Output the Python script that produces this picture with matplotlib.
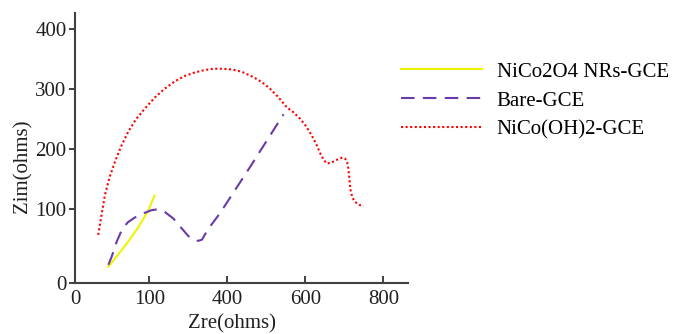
import matplotlib
matplotlib.use("Agg")
import matplotlib.pyplot as plt

plt.rcParams["font.family"] = ["Liberation Serif", "DejaVu Serif"]

# Nyquist data (ohms)
nico2o4_x = [95, 120, 145, 170, 197, 213]
nico2o4_y = [4, 24, 45, 68, 97, 122]

bare_x = [95, 102, 108, 116, 130, 145, 163, 185, 205, 220, 240, 262, 280,
          300, 315, 325, 335, 350, 380, 420, 460, 500, 544]
bare_y = [7, 18, 29, 45, 66, 78, 86, 93, 98, 99.5, 95, 84, 70,
          55, 48, 47, 49, 66, 92, 132, 172, 213, 258]

nicooh_x = [69, 78, 86, 98, 112, 128, 146, 166, 189, 214, 240, 265, 291,
            317, 343, 365, 386, 410, 437, 467, 490, 509, 530, 552, 570,
            586, 602, 616, 628, 638, 647, 655, 665, 680, 695, 702, 707,
            710, 713, 715, 720, 727, 738, 749]
nicooh_y = [57, 92, 123, 153, 179, 205, 229, 250, 268, 286, 301, 313, 322,
            328, 332, 334, 334, 333, 329, 320, 311, 301, 287, 270, 261,
            251, 238, 223, 208, 193, 182, 176, 177, 182, 186, 184, 178,
            168, 150, 134, 120, 112, 107, 105]

x_lim = (9.5, 863)
y_lim = (-23.3, 427)
x_ticks = [x_lim[0], 200, 400, 600, 800]
x_labels = ["0", "100", "400", "600", "800"]
y_ticks = [y_lim[0], 100, 200, 300, 400]
y_labels = ["0", "100", "200", "300", "400"]

FS = 15

fig = plt.figure(figsize=(6.73, 3.34), dpi=100)
ax = fig.add_axes([75 / 673, 1 - 283 / 334, 333 / 673, 270 / 334])

ax.plot(nico2o4_x, nico2o4_y, color="#f2f200", lw=1.5, label="NiCo2O4 NRs-GCE")
ax.plot(bare_x, bare_y, color="#6a3aa8", lw=1.5, dashes=(6.5, 4), label="Bare-GCE")
ax.plot(nicooh_x, nicooh_y, color="#ff0000", lw=1.5, dashes=(1, 1.2),
        label="NiCo(OH)2-GCE")

ax.set_xlim(*x_lim)
ax.set_ylim(*y_lim)
ax.set_xticks(x_ticks)
ax.set_xticklabels(x_labels)
ax.set_yticks(y_ticks)
ax.set_yticklabels(y_labels)

for side in ["top", "right"]:
    ax.spines[side].set_visible(False)
for side in ["left", "bottom"]:
    ax.spines[side].set_color("#404040")
    ax.spines[side].set_linewidth(1.5)

ax.tick_params(axis="x", direction="in", length=5, width=1.2, pad=5,
               labelsize=FS, colors="#202020")
ax.tick_params(axis="y", direction="out", length=4, width=1.2, pad=2,
               labelsize=FS, colors="#202020")

ax.set_xlabel("Zre(ohms)", fontsize=FS, color="#202020")
ax.set_ylabel("Zim(ohms)", fontsize=FS, color="#202020")
ax.xaxis.set_label_coords((232 - 75) / 333, (283 - 314) / 270)
ax.yaxis.set_label_coords((32 - 75) / 333, (283 - 166) / 270)

fig.legend(loc="upper left", bbox_to_anchor=(401 / 673, 1 - 62 / 334),
           frameon=False, fontsize=FS, handlelength=3.9, handletextpad=0.7,
           labelspacing=0.45, borderaxespad=0, borderpad=0)

fig.savefig("out.png", dpi=100)
